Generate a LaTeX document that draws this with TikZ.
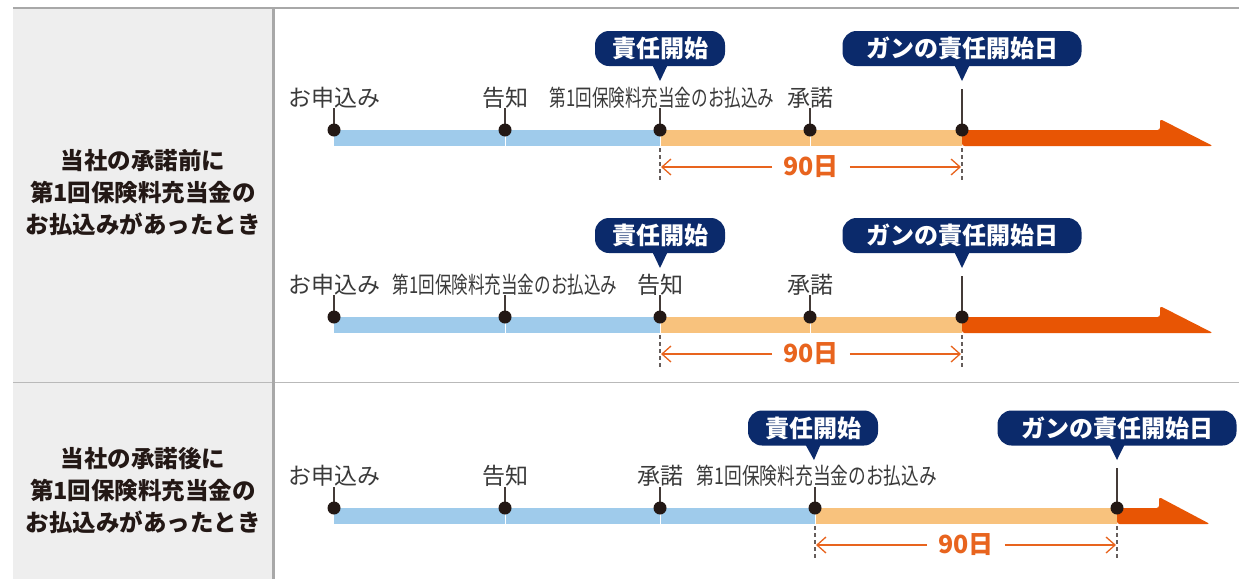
\documentclass[tikz,border=0pt]{standalone}
\usepackage{fontspec}
\setmainfont{Noto Sans CJK JP}
\usetikzlibrary{arrows.meta}
\definecolor{navy}{HTML}{0B2A6B}
\definecolor{barblue}{HTML}{9FCBEB}
\definecolor{barorange}{HTML}{F8C27D}
\definecolor{deeporange}{HTML}{E85504}
\definecolor{dimorange}{HTML}{E8641E}
\definecolor{dotcol}{HTML}{231815}
\definecolor{labcol}{HTML}{3A3A3A}
\definecolor{panel}{HTML}{EEEEEE}
\definecolor{rulecol}{HTML}{A8A8A8}
\begin{document}
\begin{tikzpicture}[x=1pt,y=-1pt,
 lab/.style={font=\fontsize{23}{23}\selectfont, text=labcol, inner sep=0},
 side/.style={font=\fontsize{23.5}{32}\selectfont\bfseries, text=dotcol, align=center, inner sep=0},
 callout/.style={fill=navy, rounded corners=14pt, text=white, font=\fontsize{24}{24}\selectfont\bfseries, minimum height=35pt, inner sep=0},
 dot/.style={circle, fill=dotcol, minimum size=13pt, inner sep=0},
 tickline/.style={draw=dotcol!85, line width=1.3pt},
 dimline/.style={draw=dotcol!70, line width=1.2pt, dash pattern=on 4pt off 3pt},
 dimarrow/.style={draw=dimorange, line width=1.3pt, -{Straight Barb[length=9pt,width=16pt,line width=1.3pt]}},
 days/.style={font=\fontsize{25}{25}\selectfont\bfseries, text=dimorange, inner xsep=11pt, inner ysep=0},
 sepline/.style={draw=white, line width=1pt},
 bigarrow/.style={fill=deeporange, rounded corners=2.5pt},
]
\useasboundingbox (0,0) rectangle (1239,579);
\fill[white] (0,0) rectangle (1239,579);
% frame
\fill[panel] (13,8) rectangle (272,579);
\draw[rulecol, line width=2pt] (13,8) -- (1239,8);
\draw[rulecol!80, line width=1pt] (13,382.5) -- (1239,382.5);
\draw[rulecol, line width=2.5pt] (273.5,8) -- (273.5,579);
% side texts
\node[side] (s1) at (143,193) {当社の承諾前に\\第1回保険料充当金の\\お払込みがあったとき};
\node[side] (s2) at (143,490) {当社の承諾後に\\第1回保険料充当金の\\お払込みがあったとき};

% ================= timeline 1 (B=130)
\fill[barblue] (334,130) rectangle (660,146);
\fill[barorange] (660,130) rectangle (962,146);
\fill[bigarrow] (962,130) -- (1160,130) -- (1160,119) -- (1213,146) -- (962,146) -- cycle;
\draw[sepline] (505,130) -- (505,146);
\draw[sepline] (660,130) -- (660,146);
\draw[sepline] (810,130) -- (810,146);
\node[lab] (l11) at (334,98) {お申込み};
\node[lab] (l12) at (505,98) {告知};
\node[lab] (l13) at (662,98) {\scalebox{0.72}[1]{第1回保険料充当金のお払込み}};
\node[lab] (l14) at (810,98) {承諾};
\coordinate (t11) at (334,108);
\coordinate (t12) at (505,108);
\coordinate (t13) at (660,108);
\coordinate (t14) at (810,108);
\coordinate (t15) at (962,89);
\draw[tickline] (334,130) -- (t11);
\draw[tickline] (505,130) -- (t12);
\draw[tickline] (660,130) -- (t13);
\draw[tickline] (810,130) -- (t14);
\draw[tickline] (962,130) -- (t15);
\node[dot] (d11) at (334,130) {};
\node[dot] (d12) at (505,130) {};
\node[dot] (d13) at (660,130) {};
\node[dot] (d14) at (810,130) {};
\node[dot] (d15) at (962,130) {};
\node[callout, minimum width=130pt] (c11) at (660,48.5) {責任開始};
\node[callout, minimum width=239pt] (c12) at (962,48.5) {ガンの責任開始日};
\coordinate (p11) at (660,81);
\coordinate (p12) at (962,81);
\fill[navy] ([xshift=-7.5pt,yshift=1pt]c11.south) -- (p11) -- ([xshift=7.5pt,yshift=1pt]c11.south) -- cycle;
\fill[navy] ([xshift=-7.5pt,yshift=1pt]c12.south) -- (p12) -- ([xshift=7.5pt,yshift=1pt]c12.south) -- cycle;
\draw[dimline] (660,148) -- (660,180);
\draw[dimline] (962,148) -- (962,180);
\node[days] (n1) at (811,167) {90日};
\coordinate (e1l) at (661,167);
\coordinate (e1r) at (961,167);
\draw[dimarrow] (n1.west) -- (e1l);
\draw[dimarrow] (n1.east) -- (e1r);

% ================= timeline 2 (B=317)
\fill[barblue] (334,317) rectangle (660,333);
\fill[barorange] (660,317) rectangle (962,333);
\fill[bigarrow] (962,317) -- (1160,317) -- (1160,306) -- (1213,333) -- (962,333) -- cycle;
\draw[sepline] (505,317) -- (505,333);
\draw[sepline] (660,317) -- (660,333);
\draw[sepline] (810,317) -- (810,333);
\node[lab] (l21) at (334,285) {お申込み};
\node[lab] (l22) at (505,285) {\scalebox{0.72}[1]{第1回保険料充当金のお払込み}};
\node[lab] (l23) at (660,285) {告知};
\node[lab] (l24) at (810,285) {承諾};
\coordinate (t21) at (334,295);
\coordinate (t22) at (505,295);
\coordinate (t23) at (660,295);
\coordinate (t24) at (810,295);
\coordinate (t25) at (962,276);
\draw[tickline] (334,317) -- (t21);
\draw[tickline] (505,317) -- (t22);
\draw[tickline] (660,317) -- (t23);
\draw[tickline] (810,317) -- (t24);
\draw[tickline] (962,317) -- (t25);
\node[dot] (d21) at (334,317) {};
\node[dot] (d22) at (505,317) {};
\node[dot] (d23) at (660,317) {};
\node[dot] (d24) at (810,317) {};
\node[dot] (d25) at (962,317) {};
\node[callout, minimum width=130pt] (c21) at (660,235.5) {責任開始};
\node[callout, minimum width=239pt] (c22) at (962,235.5) {ガンの責任開始日};
\coordinate (p21) at (660,268);
\coordinate (p22) at (962,268);
\fill[navy] ([xshift=-7.5pt,yshift=1pt]c21.south) -- (p21) -- ([xshift=7.5pt,yshift=1pt]c21.south) -- cycle;
\fill[navy] ([xshift=-7.5pt,yshift=1pt]c22.south) -- (p22) -- ([xshift=7.5pt,yshift=1pt]c22.south) -- cycle;
\draw[dimline] (660,335) -- (660,367);
\draw[dimline] (962,335) -- (962,367);
\node[days] (n2) at (811,354) {90日};
\coordinate (e2l) at (661,354);
\coordinate (e2r) at (961,354);
\draw[dimarrow] (n2.west) -- (e2l);
\draw[dimarrow] (n2.east) -- (e2r);

% ================= timeline 3 (B=508)
\fill[barblue] (334,508) rectangle (815,524);
\fill[barorange] (815,508) rectangle (1117,524);
\fill[bigarrow] (1117,508) -- (1159,508) -- (1159,497) -- (1210,524) -- (1117,524) -- cycle;
\draw[sepline] (505,508) -- (505,524);
\draw[sepline] (660,508) -- (660,524);
\draw[sepline] (815,508) -- (815,524);
\node[lab] (l31) at (334,476) {お申込み};
\node[lab] (l32) at (505,476) {告知};
\node[lab] (l33) at (660,476) {承諾};
\node[lab] (l34) at (817,476) {\scalebox{0.77}[1]{第1回保険料充当金のお払込み}};
\coordinate (t31) at (334,487);
\coordinate (t32) at (505,487);
\coordinate (t33) at (660,487);
\coordinate (t34) at (815,487);
\coordinate (t35) at (1117,468);
\draw[tickline] (334,508) -- (t31);
\draw[tickline] (505,508) -- (t32);
\draw[tickline] (660,508) -- (t33);
\draw[tickline] (815,508) -- (t34);
\draw[tickline] (1117,508) -- (t35);
\node[dot] (d31) at (334,508) {};
\node[dot] (d32) at (505,508) {};
\node[dot] (d33) at (660,508) {};
\node[dot] (d34) at (815,508) {};
\node[dot] (d35) at (1117,508) {};
\node[callout, minimum width=130pt] (c31) at (813,428) {責任開始};
\node[callout, minimum width=239pt] (c32) at (1117,428) {ガンの責任開始日};
\coordinate (p31) at (814,460);
\coordinate (p32) at (1117,460);
\fill[navy] ([xshift=-7.5pt,yshift=1pt]c31.south) -- (p31) -- ([xshift=7.5pt,yshift=1pt]c31.south) -- cycle;
\fill[navy] ([xshift=-7.5pt,yshift=1pt]c32.south) -- (p32) -- ([xshift=7.5pt,yshift=1pt]c32.south) -- cycle;
\draw[dimline] (815,526) -- (815,558);
\draw[dimline] (1117,526) -- (1117,558);
\node[days] (n3) at (966,545) {90日};
\coordinate (e3l) at (816,545);
\coordinate (e3r) at (1116,545);
\draw[dimarrow] (n3.west) -- (e3l);
\draw[dimarrow] (n3.east) -- (e3r);
\end{tikzpicture}
\end{document}
